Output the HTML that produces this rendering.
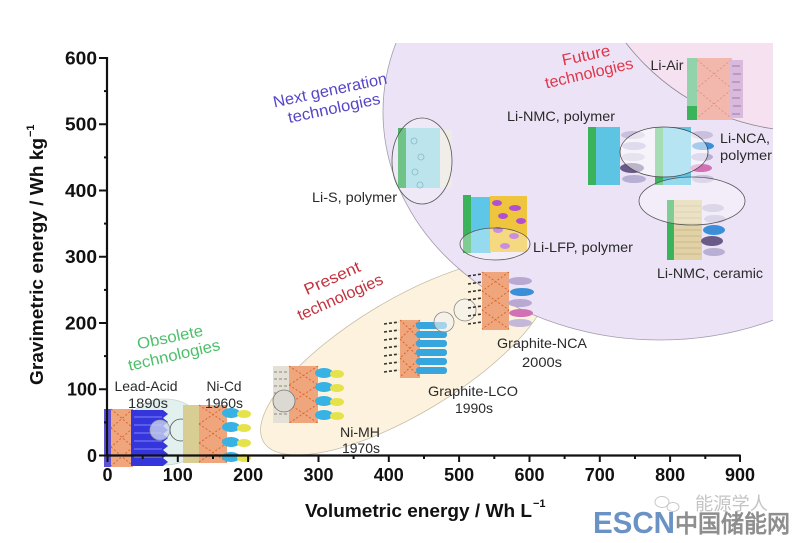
<!DOCTYPE html>
<html><head><meta charset="utf-8"><style>
html,body{margin:0;padding:0;background:#fff;}
svg{display:block}
text{font-family:"Liberation Sans",Arial,sans-serif;}
</style></head><body>
<svg width="800" height="543" viewBox="0 0 800 543" xmlns="http://www.w3.org/2000/svg">
<defs>
<clipPath id="rc"><rect x="0" y="43" width="773" height="500"/></clipPath>
</defs>
<rect width="800" height="543" fill="#fff"/>

<!-- Present ellipse -->
<ellipse cx="405" cy="357" rx="165" ry="57" transform="rotate(-31 405 357)" fill="#fcf2de" stroke="#c9bfa8" stroke-width="0.8"/>
<!-- Obsolete ellipse -->
<ellipse cx="165" cy="432" rx="40" ry="33" fill="#e2f0ee" stroke="#c5d6d4" stroke-width="0.8"/>

<!-- Next generation / future regions -->
<g clip-path="url(#rc)">
<ellipse cx="660" cy="112" rx="277" ry="228" fill="#ece4f6" stroke="#a29cae" stroke-width="0.8"/>
<circle cx="805" cy="-95" r="226" fill="#f5e1f0" stroke="#8e8494" stroke-width="0.8"/>
</g>

<!-- Lead-Acid icon -->
<g>
<rect x="104" y="409" width="8" height="58" fill="#5c52d4"/>
<rect x="111" y="409" width="22" height="58" fill="#f0a67c"/>
<g stroke="#d8662f" stroke-width="1" stroke-dasharray="2,2">
<line x1="111" y1="409" x2="133" y2="428"/><line x1="133" y1="409" x2="111" y2="428"/>
<line x1="111" y1="428" x2="133" y2="447"/><line x1="133" y1="428" x2="111" y2="447"/>
<line x1="111" y1="447" x2="133" y2="466"/><line x1="133" y1="447" x2="111" y2="466"/>
</g>
<polygon points="131,410 163,410 168,414 163,418 168,422 163,426 168,430 163,434 168,438 163,442 168,446 163,450 168,454 163,458 168,462 163,466 131,466" fill="#3535dc"/>
<g stroke="#7474f2" stroke-width="1.2">
<line x1="134" y1="417" x2="162" y2="417"/><line x1="134" y1="425" x2="162" y2="425"/><line x1="134" y1="433" x2="162" y2="433"/><line x1="134" y1="441" x2="162" y2="441"/><line x1="134" y1="449" x2="162" y2="449"/><line x1="134" y1="457" x2="162" y2="457"/>
</g>
<circle cx="160" cy="430" r="10" fill="#c9d4ee" fill-opacity="0.8" stroke="#9a9aa8" stroke-width="0.8"/>
<circle cx="181" cy="430" r="11" fill="#e6f0ee" fill-opacity="0.6" stroke="#555" stroke-width="0.8"/>
</g>

<!-- Ni-Cd icon -->
<g>
<rect x="183" y="405" width="18" height="58" fill="#d8cd92"/>
<rect x="199" y="405" width="28" height="58" fill="#f0a67c"/>
<g stroke="#d8662f" stroke-width="1" stroke-dasharray="2,2">
<line x1="199" y1="405" x2="227" y2="424"/><line x1="227" y1="405" x2="199" y2="424"/>
<line x1="199" y1="424" x2="227" y2="443"/><line x1="227" y1="424" x2="199" y2="443"/>
<line x1="199" y1="443" x2="227" y2="462"/><line x1="227" y1="443" x2="199" y2="462"/>
</g>
<g>
<ellipse cx="231" cy="413" rx="9" ry="5" fill="#36b2e4"/><ellipse cx="244" cy="414" rx="7" ry="4" fill="#e6e24a"/>
<ellipse cx="231" cy="427" rx="9" ry="5" fill="#36b2e4"/><ellipse cx="244" cy="428" rx="7" ry="4" fill="#e6e24a"/>
<ellipse cx="231" cy="442" rx="9" ry="5" fill="#36b2e4"/><ellipse cx="244" cy="443" rx="7" ry="4" fill="#e6e24a"/>
<ellipse cx="231" cy="457" rx="9" ry="5" fill="#36b2e4"/><ellipse cx="244" cy="458" rx="7" ry="4" fill="#e6e24a"/>
</g>
</g>

<!-- Ni-MH icon -->
<g>
<rect x="273" y="366" width="17" height="57" fill="#e5e0d5"/>
<g stroke="#8a8680" stroke-width="1" stroke-dasharray="3,2">
<line x1="274" y1="372" x2="289" y2="372"/><line x1="274" y1="379" x2="289" y2="379"/><line x1="274" y1="386" x2="289" y2="386"/><line x1="274" y1="393" x2="289" y2="393"/><line x1="274" y1="407" x2="289" y2="407"/><line x1="274" y1="414" x2="289" y2="414"/>
</g>
<rect x="289" y="366" width="29" height="57" fill="#f0a67c"/>
<g stroke="#d8662f" stroke-width="1" stroke-dasharray="2,2">
<line x1="289" y1="366" x2="318" y2="385"/><line x1="318" y1="366" x2="289" y2="385"/>
<line x1="289" y1="385" x2="318" y2="404"/><line x1="318" y1="385" x2="289" y2="404"/>
<line x1="289" y1="404" x2="318" y2="423"/><line x1="318" y1="404" x2="289" y2="423"/>
</g>
<ellipse cx="324" cy="373" rx="9" ry="5" fill="#36b2e4"/><ellipse cx="337" cy="374" rx="7" ry="4" fill="#e6e24a"/>
<ellipse cx="324" cy="387" rx="9" ry="5" fill="#36b2e4"/><ellipse cx="337" cy="388" rx="7" ry="4" fill="#e6e24a"/>
<ellipse cx="324" cy="401" rx="9" ry="5" fill="#36b2e4"/><ellipse cx="337" cy="402" rx="7" ry="4" fill="#e6e24a"/>
<ellipse cx="324" cy="415" rx="9" ry="5" fill="#36b2e4"/><ellipse cx="337" cy="416" rx="7" ry="4" fill="#e6e24a"/>
<circle cx="284" cy="401" r="11" fill="#dcd9d3" stroke="#777" stroke-width="0.8"/>
</g>

<!-- Graphite-LCO icon -->
<g>
<g stroke="#333" stroke-width="1.6" stroke-dasharray="3,2">
<line x1="384" y1="324" x2="399" y2="322"/><line x1="384" y1="332" x2="399" y2="330"/><line x1="384" y1="340" x2="399" y2="338"/><line x1="384" y1="348" x2="399" y2="346"/><line x1="384" y1="356" x2="399" y2="354"/><line x1="384" y1="364" x2="399" y2="362"/><line x1="384" y1="372" x2="399" y2="370"/>
</g>
<rect x="400" y="320" width="20" height="58" fill="#f0a67c"/>
<g stroke="#d8662f" stroke-width="1" stroke-dasharray="2,2">
<line x1="400" y1="320" x2="420" y2="339"/><line x1="420" y1="320" x2="400" y2="339"/>
<line x1="400" y1="339" x2="420" y2="358"/><line x1="420" y1="339" x2="400" y2="358"/>
<line x1="400" y1="358" x2="420" y2="377"/><line x1="420" y1="358" x2="400" y2="377"/>
</g>
<g fill="#38a6de">
<rect x="416" y="322" width="31" height="7" rx="3"/><rect x="416" y="331" width="31" height="7" rx="3"/><rect x="416" y="340" width="31" height="7" rx="3"/><rect x="416" y="349" width="31" height="7" rx="3"/><rect x="416" y="358" width="31" height="7" rx="3"/><rect x="416" y="367" width="31" height="7" rx="3"/>
</g>
<circle cx="444" cy="322" r="10" fill="#f2f2f0" fill-opacity="0.6" stroke="#888" stroke-width="0.8"/>
<circle cx="465" cy="310" r="11" fill="#f2f2f0" fill-opacity="0.5" stroke="#888" stroke-width="0.8"/>
</g>

<!-- Graphite-NCA icon -->
<g>
<g stroke="#333" stroke-width="1.6" stroke-dasharray="3,2">
<line x1="468" y1="276" x2="482" y2="274"/><line x1="468" y1="284" x2="482" y2="282"/><line x1="468" y1="292" x2="482" y2="290"/><line x1="468" y1="300" x2="482" y2="298"/><line x1="468" y1="308" x2="482" y2="306"/><line x1="468" y1="316" x2="482" y2="314"/><line x1="468" y1="324" x2="482" y2="322"/>
</g>
<rect x="482" y="272" width="27" height="58" fill="#f0a67c"/>
<g stroke="#d8662f" stroke-width="1" stroke-dasharray="2,2">
<line x1="482" y1="272" x2="509" y2="291"/><line x1="509" y1="272" x2="482" y2="291"/>
<line x1="482" y1="291" x2="509" y2="310"/><line x1="509" y1="291" x2="482" y2="310"/>
<line x1="482" y1="310" x2="509" y2="329"/><line x1="509" y1="310" x2="482" y2="329"/>
</g>
<ellipse cx="520" cy="281" rx="12" ry="4" fill="#b9a9d2"/>
<ellipse cx="522" cy="292" rx="12" ry="4" fill="#3b8fd8"/>
<ellipse cx="520" cy="303" rx="12" ry="4" fill="#b9a9d2"/>
<ellipse cx="521" cy="313" rx="12" ry="4" fill="#d270b4"/>
<ellipse cx="520" cy="323" rx="12" ry="4" fill="#c4b8d8"/>
</g>

<!-- Li-S icon -->
<g>
<rect x="398" y="128" width="8" height="60" fill="#4cb56a"/>
<rect x="406" y="128" width="34" height="60" fill="#aadee8"/>
<rect x="440" y="130" width="12" height="58" fill="#eeeae4"/>
<g fill="none" stroke="#6aa8b8" stroke-width="0.8">
<circle cx="414" cy="141" r="3"/><circle cx="421" cy="157" r="3"/><circle cx="415" cy="172" r="3"/><circle cx="420" cy="185" r="3"/>
</g>
<ellipse cx="422" cy="161" rx="30" ry="43" fill="#fff" fill-opacity="0.2" stroke="#555" stroke-width="0.8"/>
</g>

<!-- Li-LFP icon -->
<g>
<rect x="463" y="195" width="8" height="58" fill="#3bb35a"/>
<rect x="471" y="197" width="20" height="56" fill="#5ec6e6"/>
<rect x="490" y="196" width="37" height="56" fill="#f0c53e"/>
<g fill="#b050d0">
<ellipse cx="497" cy="203" rx="5" ry="3"/><ellipse cx="515" cy="208" rx="6" ry="3"/><ellipse cx="503" cy="216" rx="5" ry="3"/><ellipse cx="521" cy="221" rx="5" ry="3"/><ellipse cx="498" cy="230" rx="5" ry="3"/><ellipse cx="514" cy="236" rx="5" ry="3"/><ellipse cx="505" cy="246" rx="5" ry="3"/>
</g>
<ellipse cx="495" cy="244" rx="35" ry="16" fill="#fff" fill-opacity="0.35" stroke="#555" stroke-width="0.8"/>
</g>

<!-- Li-NMC polymer icon -->
<g>
<rect x="588" y="127" width="8" height="58" fill="#3bb35a"/>
<rect x="596" y="127" width="24" height="58" fill="#5ec4e4"/>
<ellipse cx="633" cy="135" rx="12" ry="4" fill="#c8c0dc"/>
<ellipse cx="634" cy="146" rx="12" ry="4" fill="#b8b0d4"/>
<ellipse cx="633" cy="157" rx="12" ry="4" fill="#c8c0dc"/>
<ellipse cx="632" cy="168" rx="12" ry="5" fill="#6a5a88"/>
<ellipse cx="634" cy="179" rx="12" ry="4" fill="#b8b0d4"/>
<rect x="655" y="127" width="8" height="58" fill="#3bb35a"/>
<rect x="663" y="127" width="28" height="58" fill="#5ec4e4"/>
<ellipse cx="702" cy="135" rx="11" ry="4" fill="#c8c0dc"/>
<ellipse cx="703" cy="146" rx="11" ry="4" fill="#3b8fd8"/>
<ellipse cx="702" cy="157" rx="11" ry="4" fill="#b8b0d4"/>
<ellipse cx="701" cy="168" rx="11" ry="4" fill="#d270b4"/>
<ellipse cx="703" cy="179" rx="11" ry="4" fill="#c8c0dc"/>
<ellipse cx="664" cy="152" rx="44" ry="25" fill="#fff" fill-opacity="0.55" stroke="#444" stroke-width="0.8"/>
</g>

<!-- Li-NMC ceramic icon -->
<g>
<rect x="667" y="200" width="7" height="60" fill="#3bb35a"/>
<rect x="674" y="200" width="28" height="60" fill="#e0d2a6"/>
<g stroke="#c4b27e" stroke-width="0.8">
<line x1="675" y1="206" x2="701" y2="206"/><line x1="675" y1="212" x2="701" y2="212"/><line x1="675" y1="218" x2="701" y2="218"/><line x1="675" y1="224" x2="701" y2="224"/><line x1="675" y1="230" x2="701" y2="230"/><line x1="675" y1="236" x2="701" y2="236"/><line x1="675" y1="242" x2="701" y2="242"/><line x1="675" y1="248" x2="701" y2="248"/><line x1="675" y1="254" x2="701" y2="254"/>
</g>
<ellipse cx="713" cy="208" rx="11" ry="4" fill="#c8c0dc"/>
<ellipse cx="715" cy="219" rx="11" ry="4" fill="#c8c0dc"/>
<ellipse cx="714" cy="230" rx="11" ry="5" fill="#3b8fd8"/>
<ellipse cx="712" cy="241" rx="11" ry="5" fill="#6a5a88"/>
<ellipse cx="714" cy="252" rx="11" ry="4" fill="#b8b0d4"/>
<ellipse cx="692" cy="201" rx="53" ry="24" fill="#fff" fill-opacity="0.35" stroke="#555" stroke-width="0.8"/>
</g>

<!-- Li-Air icon -->
<g>
<rect x="687" y="58" width="10" height="62" fill="#93d3ac"/>
<rect x="687" y="106" width="10" height="14" fill="#3bb35a"/>
<rect x="697" y="58" width="35" height="62" fill="#f2b8ae"/>
<g stroke="#e08a7a" stroke-width="0.8" stroke-dasharray="2,2">
<line x1="697" y1="60" x2="731" y2="88"/><line x1="731" y1="60" x2="697" y2="88"/>
<line x1="697" y1="90" x2="731" y2="118"/><line x1="731" y1="90" x2="697" y2="118"/>
</g>
<rect x="730" y="60" width="13" height="58" fill="#d9badd"/>
<g stroke="#9a7aa8" stroke-width="1">
<line x1="732" y1="66" x2="740" y2="66"/><line x1="733" y1="74" x2="741" y2="74"/><line x1="732" y1="82" x2="740" y2="82"/><line x1="733" y1="90" x2="741" y2="90"/><line x1="732" y1="98" x2="740" y2="98"/><line x1="733" y1="106" x2="741" y2="106"/><line x1="732" y1="114" x2="740" y2="114"/>
</g>
</g>

<!-- Axes -->
<g stroke="#111" stroke-width="2.2" fill="none">
<line x1="107" y1="57" x2="107" y2="456"/>
<line x1="106" y1="455.5" x2="740.5" y2="455.5"/>
</g>
<g stroke="#111" stroke-width="2">
<!-- y major ticks -->
<line x1="99" y1="58" x2="107" y2="58"/><line x1="99" y1="124.25" x2="107" y2="124.25"/><line x1="99" y1="190.5" x2="107" y2="190.5"/><line x1="99" y1="256.75" x2="107" y2="256.75"/><line x1="99" y1="323" x2="107" y2="323"/><line x1="99" y1="389.25" x2="107" y2="389.25"/><line x1="99" y1="455.5" x2="107" y2="455.5"/>
<!-- y minor -->
<line x1="104" y1="91.1" x2="107" y2="91.1"/><line x1="104" y1="157.4" x2="107" y2="157.4"/><line x1="104" y1="223.6" x2="107" y2="223.6"/><line x1="104" y1="289.9" x2="107" y2="289.9"/><line x1="104" y1="356.1" x2="107" y2="356.1"/><line x1="104" y1="422.4" x2="107" y2="422.4"/>
<!-- x major -->
<line x1="107.5" y1="455" x2="107.5" y2="462"/><line x1="177.8" y1="455" x2="177.8" y2="462"/><line x1="248.1" y1="455" x2="248.1" y2="462"/><line x1="318.5" y1="455" x2="318.5" y2="462"/><line x1="388.8" y1="455" x2="388.8" y2="462"/><line x1="459.1" y1="455" x2="459.1" y2="462"/><line x1="529.5" y1="455" x2="529.5" y2="462"/><line x1="599.8" y1="455" x2="599.8" y2="462"/><line x1="670.1" y1="455" x2="670.1" y2="462"/><line x1="740" y1="455" x2="740" y2="462"/>
<!-- x minor -->
<line x1="142.7" y1="455" x2="142.7" y2="459"/><line x1="213" y1="455" x2="213" y2="459"/><line x1="283.3" y1="455" x2="283.3" y2="459"/><line x1="353.6" y1="455" x2="353.6" y2="459"/><line x1="424" y1="455" x2="424" y2="459"/><line x1="494.3" y1="455" x2="494.3" y2="459"/><line x1="564.6" y1="455" x2="564.6" y2="459"/><line x1="635" y1="455" x2="635" y2="459"/><line x1="705.3" y1="455" x2="705.3" y2="459"/>
</g>

<!-- Tick labels -->
<g font-weight="bold" font-size="18" fill="#111" text-anchor="end">
<text x="97" y="64.5" textLength="32" lengthAdjust="spacingAndGlyphs">600</text>
<text x="97" y="130.7" textLength="32" lengthAdjust="spacingAndGlyphs">500</text>
<text x="97" y="197" textLength="32" lengthAdjust="spacingAndGlyphs">400</text>
<text x="97" y="263.2" textLength="32" lengthAdjust="spacingAndGlyphs">300</text>
<text x="97" y="329.5" textLength="32" lengthAdjust="spacingAndGlyphs">200</text>
<text x="97" y="395.7" textLength="30" lengthAdjust="spacingAndGlyphs">100</text>
<text x="97" y="462" textLength="10" lengthAdjust="spacingAndGlyphs">0</text>
</g>
<g font-weight="bold" font-size="18" fill="#111" text-anchor="middle">
<text x="107.5" y="481">0</text>
<text x="177.8" y="481" textLength="30" lengthAdjust="spacingAndGlyphs">100</text>
<text x="248.1" y="481" textLength="30" lengthAdjust="spacingAndGlyphs">200</text>
<text x="318.5" y="481" textLength="30" lengthAdjust="spacingAndGlyphs">300</text>
<text x="388.8" y="481" textLength="30" lengthAdjust="spacingAndGlyphs">400</text>
<text x="459.1" y="481" textLength="30" lengthAdjust="spacingAndGlyphs">500</text>
<text x="529.5" y="481" textLength="30" lengthAdjust="spacingAndGlyphs">600</text>
<text x="599.8" y="481" textLength="30" lengthAdjust="spacingAndGlyphs">700</text>
<text x="670.1" y="481" textLength="30" lengthAdjust="spacingAndGlyphs">800</text>
<text x="740" y="481" textLength="30" lengthAdjust="spacingAndGlyphs">900</text>
</g>

<!-- Axis titles -->
<text x="305" y="517" font-weight="bold" font-size="18" fill="#111" textLength="227" lengthAdjust="spacingAndGlyphs">Volumetric energy / Wh L</text>
<text x="533" y="507" font-weight="bold" font-size="11" fill="#111">−1</text>
<g transform="translate(43,385) rotate(-90)">
<text x="0" y="0" font-weight="bold" font-size="18" fill="#111" textLength="247" lengthAdjust="spacingAndGlyphs">Gravimetric energy / Wh kg</text>
<text x="248" y="-9" font-weight="bold" font-size="11" fill="#111">−1</text>
</g>

<!-- Item labels -->
<g font-size="14" fill="#2a2a2a" text-anchor="middle">
<text x="146" y="391" textLength="63" lengthAdjust="spacingAndGlyphs">Lead-Acid</text>
<text x="148" y="408" textLength="40" lengthAdjust="spacingAndGlyphs">1890s</text>
<text x="224" y="391" textLength="35" lengthAdjust="spacingAndGlyphs">Ni-Cd</text>
<text x="224" y="408" textLength="38" lengthAdjust="spacingAndGlyphs">1960s</text>
<text x="360" y="437" textLength="40" lengthAdjust="spacingAndGlyphs">Ni-MH</text>
<text x="361" y="453" textLength="38" lengthAdjust="spacingAndGlyphs">1970s</text>
<text x="473" y="396" textLength="90" lengthAdjust="spacingAndGlyphs">Graphite-LCO</text>
<text x="474" y="413" textLength="38" lengthAdjust="spacingAndGlyphs">1990s</text>
<text x="542" y="348" textLength="90" lengthAdjust="spacingAndGlyphs">Graphite-NCA</text>
<text x="542" y="367" textLength="40" lengthAdjust="spacingAndGlyphs">2000s</text>
<text x="354.5" y="202" textLength="85" lengthAdjust="spacingAndGlyphs">Li-S, polymer</text>
<text x="583" y="252" textLength="100" lengthAdjust="spacingAndGlyphs">Li-LFP, polymer</text>
<text x="561" y="121" textLength="108" lengthAdjust="spacingAndGlyphs">Li-NMC, polymer</text>
<text x="745" y="143" textLength="50" lengthAdjust="spacingAndGlyphs">Li-NCA,</text>
<text x="746" y="160" textLength="52" lengthAdjust="spacingAndGlyphs">polymer</text>
<text x="710" y="278" textLength="106" lengthAdjust="spacingAndGlyphs">Li-NMC, ceramic</text>
<text x="667" y="70" textLength="33" lengthAdjust="spacingAndGlyphs">Li-Air</text>
</g>

<!-- Group labels -->
<g font-size="16" text-anchor="middle">
<g fill="#e0354a">
<text transform="translate(586,55) rotate(-12)" y="5.5" textLength="49" lengthAdjust="spacingAndGlyphs">Future</text>
<text transform="translate(589,73) rotate(-13)" y="5.5" textLength="90" lengthAdjust="spacingAndGlyphs">technologies</text>
</g>
<g fill="#5546c8">
<text transform="translate(330,90) rotate(-12)" y="5.5" textLength="116" lengthAdjust="spacingAndGlyphs">Next generation</text>
<text transform="translate(334,108) rotate(-12)" y="5.5" textLength="94" lengthAdjust="spacingAndGlyphs">technologies</text>
</g>
<g fill="#c2323e">
<text transform="translate(332,278) rotate(-24)" y="5.5" textLength="60" lengthAdjust="spacingAndGlyphs">Present</text>
<text transform="translate(340,297) rotate(-24)" y="5.5" textLength="92" lengthAdjust="spacingAndGlyphs">technologies</text>
</g>
<g fill="#4dbf6a">
<text transform="translate(170,337) rotate(-12)" y="5.5" textLength="67" lengthAdjust="spacingAndGlyphs">Obsolete</text>
<text transform="translate(174,355) rotate(-13)" y="5.5" textLength="94" lengthAdjust="spacingAndGlyphs">technologies</text>
</g>
</g>

<!-- Watermark -->
<g fill="none" stroke="#c8c8c8" stroke-width="1">
<ellipse cx="662" cy="502" rx="7" ry="5.5"/>
<ellipse cx="673" cy="507" rx="6" ry="4.5"/>
</g>
<text x="695" y="510" font-family="'Liberation Sans','Noto Sans CJK SC',sans-serif" font-size="18" fill="#c4c4c4" textLength="73" lengthAdjust="spacingAndGlyphs">能源学人</text>
<text x="593" y="533" font-weight="bold" font-size="31" fill="#6a92c4" textLength="82" lengthAdjust="spacingAndGlyphs">ESCN</text>
<text x="675" y="532" font-family="'Liberation Sans','Noto Sans CJK SC',sans-serif" font-weight="bold" font-size="24" fill="#8e8e8e" textLength="115" lengthAdjust="spacingAndGlyphs">中国储能网</text>
</svg>
</body></html>
